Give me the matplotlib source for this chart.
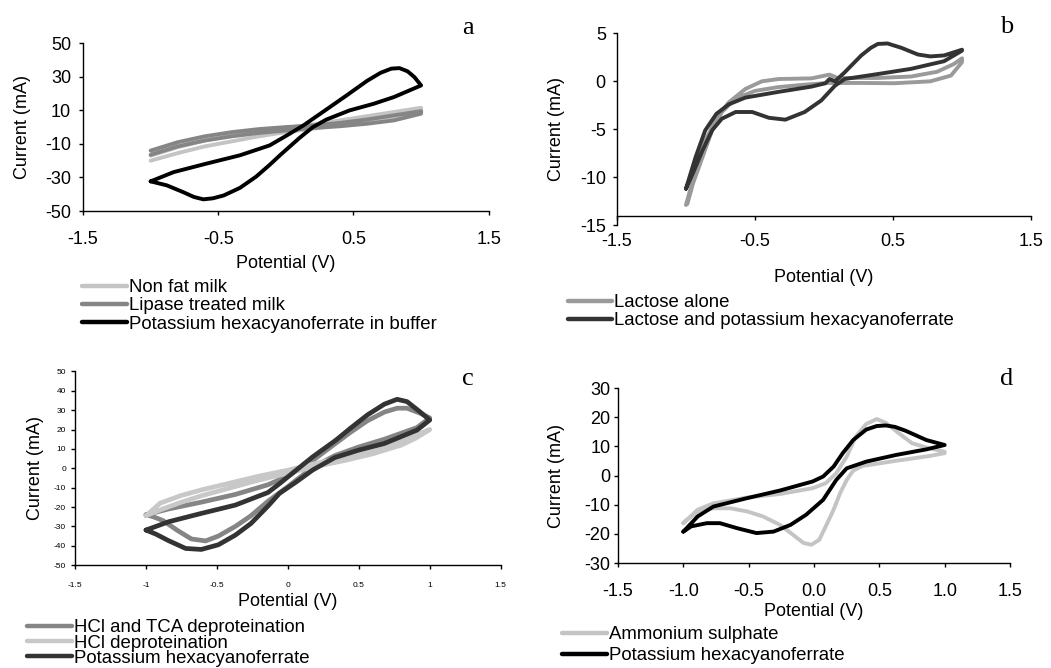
import matplotlib.pyplot as plt
from matplotlib.lines import Line2D

plt.rcParams["font.family"] = ["Liberation Sans", "DejaVu Sans"]
plt.rcParams["axes.unicode_minus"] = False
plt.rcParams["lines.solid_joinstyle"] = "round"
plt.rcParams["lines.solid_capstyle"] = "round"

# ---- panel a : milk samples ----
a_nonfat_v = [-1.0, -0.8, -0.6, -0.4, -0.2, 0.0, 0.2, 0.4, 0.6, 0.8, 1.0,
              1.0, 0.8, 0.6, 0.4, 0.2, 0.0, -0.2, -0.4, -0.6, -0.8, -1.0]
a_nonfat_i = [-17, -12, -8, -5, -2.5, -0.5, 1.5, 4, 6.5, 9, 11.5,
              9, 5.5, 3, 1, -1, -3, -5.5, -8.5, -11.5, -15.5, -20]
a_lipase_v = [-1.0, -0.8, -0.6, -0.4, -0.2, 0.0, 0.2, 0.4, 0.6, 0.8, 1.0,
              1.0, 0.8, 0.6, 0.4, 0.2, 0.0, -0.2, -0.4, -0.6, -0.8, -1.0]
a_lipase_i = [-14, -9, -5.5, -3, -1.2, 0, 1, 2.5, 4.5, 7, 9.5,
              8, 4, 2, 0.5, -0.5, -2, -3.5, -5.5, -8, -11.5, -16.5]
a_ferri_v = [-1.0, -0.83, -0.59, -0.34, -0.12, 0.0, 0.13, 0.30, 0.45, 0.60, 0.70, 0.78, 0.84, 0.90, 0.95, 1.0,
             1.0, 0.80, 0.65, 0.47, 0.30, 0.20, 0.10, -0.04, -0.12, -0.22, -0.34, -0.46, -0.54, -0.61, -0.68, -0.76, -0.88, -1.0]
a_ferri_i = [-32.3, -26.8, -21.8, -16.8, -10.9, -5.3, 1.0, 10.5, 18.9, 27.5, 32.3, 34.8, 35.1, 33.2, 29.8, 24.8,
             24.8, 17.9, 13.9, 9.9, 4.5, 0.0, -6.5, -16.5, -22.5, -29.5, -36.2, -40.7, -42.4, -43.0, -41.6, -38.7, -34.7, -32.3]
a_labels = ["Non fat milk", "Lipase treated milk", "Potassium hexacyanoferrate in buffer"]
a_xticks = [-1.5, -0.5, 0.5, 1.5]
a_xticklabels = ["-1.5", "-0.5", "0.5", "1.5"]
a_yticks = [-50, -30, -10, 10, 30, 50]

# ---- panel b : lactose ----
b_lactose_v = [-1.0, -0.93, -0.86, -0.78, -0.69, -0.57, -0.45, -0.33, -0.09, 0.04, 0.10, 0.39, 0.63, 0.82, 0.94, 1.0,
               1.0, 0.92, 0.77, 0.51, 0.27, 0.03, -0.14, -0.33, -0.50, -0.64, -0.74, -0.81, -0.88, -0.95, -0.99]
b_lactose_i = [-12.9, -9.3, -6.2, -3.9, -2.2, -0.8, 0.0, 0.24, 0.31, 0.7, 0.35, 0.35, 0.5, 1.0, 1.8, 2.4,
               2.0, 0.6, 0.0, -0.2, -0.17, -0.17, -0.35, -0.6, -1.0, -1.8, -3.2, -5.1, -7.9, -10.7, -12.8]
b_mix_v = [-1.0, -0.93, -0.86, -0.78, -0.69, -0.57, -0.33, -0.09, 0.01, 0.04, 0.08, 0.15, 0.27, 0.34, 0.39, 0.46, 0.56, 0.68, 0.77, 0.87, 1.0,
           1.0, 0.87, 0.63, 0.39, 0.15, 0.08, -0.02, -0.14, -0.28, -0.40, -0.52, -0.64, -0.74, -0.81, -0.88, -0.95, -1.0]
b_mix_i = [-11.2, -7.9, -5.1, -3.4, -2.4, -1.7, -1.1, -0.55, -0.2, 0.24, 0.0, 0.94, 2.7, 3.5, 3.9, 3.95, 3.5, 2.8, 2.6, 2.7, 3.3,
           3.2, 2.1, 1.3, 0.76, 0.24, -0.45, -2.0, -3.2, -4.0, -3.8, -3.2, -3.2, -3.9, -5.1, -7.2, -9.6, -11.2]
b_labels = ["Lactose alone", "Lactose and potassium hexacyanoferrate"]
b_xticks = [-1.5, -0.5, 0.5, 1.5]
b_xticklabels = ["-1.5", "-0.5", "0.5", "1.5"]
b_yticks = [-15, -10, -5, 0, 5]

# ---- panel c : deproteination ----
c_tca_v = [-1.0, -0.84, -0.61, -0.37, -0.14, 0.0, 0.175, 0.33, 0.44, 0.56, 0.68, 0.77, 0.84, 0.93, 1.0,
           1.0, 0.91, 0.68, 0.5, 0.33, 0.175, 0.0, -0.14, -0.26, -0.37, -0.49, -0.58, -0.68, -0.78, -0.88, -0.95, -1.0]
c_tca_i = [-24, -21, -17.5, -13.5, -8.5, -4, 4, 12.5, 18.5, 24.5, 29, 31, 31, 28.5, 26,
           26, 21, 15, 11, 6.5, 0.5, -9.5, -17, -24.5, -30, -35, -37.5, -36.5, -32, -27, -25, -24]
c_hcl_v = [-1.0, -0.9, -0.75, -0.6, -0.4, -0.2, 0.0, 0.2, 0.4, 0.6, 0.8, 0.9, 1.0,
           1.0, 0.9, 0.8, 0.6, 0.4, 0.2, 0.0, -0.2, -0.4, -0.6, -0.75, -0.9, -1.0]
c_hcl_i = [-24.5, -18, -14, -11, -7.5, -4, -1, 2.5, 6, 10, 14, 17, 20,
           20, 15.5, 12, 7.5, 4, 1, -2.5, -6, -10, -14, -17.5, -21.5, -24.5]
c_ferri_v = [-1.0, -0.84, -0.61, -0.37, -0.14, -0.06, 0.175, 0.34, 0.44, 0.56, 0.68, 0.77, 0.84, 0.93, 1.0,
             1.0, 0.91, 0.68, 0.50, 0.33, 0.175, 0.06, -0.06, -0.14, -0.26, -0.37, -0.49, -0.61, -0.72, -0.84, -0.93, -1.0]
c_ferri_i = [-31.9, -27.6, -23.3, -19.0, -12.5, -8.0, 5.9, 14.6, 20.6, 27.5, 33.1, 35.6, 34.4, 29.2, 24.9,
             24.9, 19.7, 12.8, 9.4, 5.5, -0.9, -7.0, -13.0, -19.5, -28.5, -34.5, -39.5, -41.9, -41.4, -37.4, -34.0, -31.9]
c_labels = ["HCl and TCA deproteination", "HCl deproteination", "Potassium hexacyanoferrate"]
c_xticks = [-1.5, -1.0, -0.5, 0.0, 0.5, 1.0, 1.5]
c_xticklabels = ["-1.5", "-1", "-0.5", "0", "0.5", "1", "1.5"]
c_yticks = [-50, -40, -30, -20, -10, 0, 10, 20, 30, 40, 50]

# ---- panel d : ammonium sulphate ----
d_amm_v = [-1.0, -0.89, -0.77, -0.51, -0.26, -0.01, 0.09, 0.17, 0.25, 0.32, 0.40, 0.48, 0.55, 0.65, 0.75, 0.88, 1.0,
           1.0, 0.88, 0.63, 0.37, 0.30, 0.25, 0.20, 0.15, 0.09, 0.04, -0.02, -0.08, -0.16, -0.26, -0.39, -0.51, -0.64, -0.77, -0.87, -0.94, -1.0]
d_amm_i = [-16.3, -11.7, -9.5, -7.5, -6.3, -4.3, -2.6, 0.8, 6.5, 13.4, 17.7, 19.4, 18.1, 14.5, 11.1, 9.4, 8.2,
           7.7, 6.7, 5.1, 3.3, 1.7, -1.5, -6.0, -11.7, -17.4, -22.0, -23.7, -23.1, -20.3, -16.9, -14.0, -12.3, -11.2, -11.2, -12.3, -14.0, -16.3]
d_ferri_v = [-1.0, -0.89, -0.77, -0.51, -0.26, -0.01, 0.07, 0.15, 0.22, 0.30, 0.40, 0.48, 0.55, 0.62, 0.70, 0.86, 1.0,
             1.0, 0.86, 0.63, 0.40, 0.25, 0.17, 0.07, -0.06, -0.18, -0.31, -0.44, -0.59, -0.72, -0.82, -0.94, -1.0]
d_ferri_i = [-19.2, -14.0, -10.6, -7.7, -5.1, -2.0, -0.3, 3.1, 7.7, 12.2, 15.8, 17.0, 17.2, 16.7, 15.4, 12.2, 10.5,
             10.5, 9.0, 7.1, 4.8, 2.5, -1.5, -8.3, -13.4, -16.9, -19.2, -19.7, -18.0, -16.3, -16.3, -17.4, -19.2]
d_labels = ["Ammonium sulphate", "Potassium hexacyanoferrate"]
d_xticks = [-1.5, -1.0, -0.5, 0.0, 0.5, 1.0, 1.5]
d_xticklabels = ["-1.5", "-1.0", "-0.5", "0.0", "0.5", "1.0", "1.5"]
d_yticks = [-30, -20, -10, 0, 10, 20, 30]

LW = 2.8
FS = 13
LEG_FS = 13.4


def style_axis(ax, xticks, xticklabels, yticks, ylim, tick_fs, xpad, ypad):
    ax.set_xlim(-1.5, 1.5)
    ax.set_ylim(*ylim)
    ax.set_xticks(xticks)
    ax.set_xticklabels(xticklabels)
    ax.set_yticks(yticks)
    ax.set_yticklabels([str(t) for t in yticks])
    for side in ["top", "right"]:
        ax.spines[side].set_visible(False)
    for side in ["left", "bottom"]:
        ax.spines[side].set_linewidth(1.0)
    ax.tick_params(axis="both", direction="out", length=3, width=1.0, labelsize=tick_fs)
    ax.tick_params(axis="x", pad=xpad)
    ax.tick_params(axis="y", pad=ypad)


def set_labels(ax, xlab_y, ylab_x):
    ax.set_xlabel("Potential (V)", fontsize=FS)
    ax.set_ylabel("Current (mA)", fontsize=FS)
    ax.xaxis.set_label_coords(0.5, xlab_y)
    ax.yaxis.set_label_coords(ylab_x, 0.5)
    ax.xaxis.label.set_verticalalignment("center")
    ax.yaxis.label.set_verticalalignment("center")


def add_legend(ax, colors, labels, x, y, spacing):
    handles = [Line2D([], [], color=c, lw=LW + 0.4) for c in colors]
    ax.legend(handles, labels, loc="upper left", bbox_to_anchor=(x, y),
              bbox_transform=fig.transFigure, frameon=False, fontsize=LEG_FS,
              borderpad=0, borderaxespad=0, handlelength=2.4,
              handletextpad=0.12, labelspacing=spacing)


fig = plt.figure(figsize=(10.51, 6.68), dpi=100)

# panel a
ax_a = fig.add_axes([0.079, 0.684, 0.386, 0.2515])
a_colors = ["#c4c4c4", "#858585", "#000000"]
ax_a.plot(a_nonfat_v, a_nonfat_i, color=a_colors[0], lw=LW)
ax_a.plot(a_lipase_v, a_lipase_i, color=a_colors[1], lw=LW)
ax_a.plot(a_ferri_v, a_ferri_i, color=a_colors[2], lw=LW)
style_axis(ax_a, a_xticks, a_xticklabels, a_yticks, (-50, 50), FS, 11, 5.5)
set_labels(ax_a, -0.31, -0.15)
add_legend(ax_a, a_colors, a_labels, 0.078, 0.582, 0.06)

# panel b
ax_b = fig.add_axes([0.587, 0.663, 0.394, 0.287])
b_colors = ["#9a9a9a", "#333333"]
ax_b.plot(b_lactose_v, b_lactose_i, color=b_colors[0], lw=LW)
ax_b.plot(b_mix_v, b_mix_i, color=b_colors[1], lw=LW)
style_axis(ax_b, b_xticks, b_xticklabels, b_yticks, (-15, 5), FS, 9.5, 5)
ax_b.spines["bottom"].set_position(("data", -14))
set_labels(ax_b, -0.271, -0.145)
add_legend(ax_b, b_colors, b_labels, 0.540, 0.5595, 0.06)

# panel c
ax_c = fig.add_axes([0.0714, 0.154, 0.405, 0.290])
c_colors = ["#858585", "#c8c8c8", "#333333"]
ax_c.plot(c_tca_v, c_tca_i, color=c_colors[0], lw=LW + 0.6)
ax_c.plot(c_hcl_v, c_hcl_i, color=c_colors[1], lw=LW + 0.6)
ax_c.plot(c_ferri_v, c_ferri_i, color=c_colors[2], lw=LW + 0.6)
style_axis(ax_c, c_xticks, c_xticklabels, c_yticks, (-50, 50), 6, 9, 3.5)
set_labels(ax_c, -0.186, -0.094)
add_legend(ax_c, c_colors, c_labels, 0.0257, 0.073, -0.09)

# panel d
ax_d = fig.add_axes([0.588, 0.157, 0.373, 0.262])
d_colors = ["#c4c4c4", "#000000"]
ax_d.plot(d_amm_v, d_amm_i, color=d_colors[0], lw=LW)
ax_d.plot(d_ferri_v, d_ferri_i, color=d_colors[1], lw=LW)
style_axis(ax_d, d_xticks, d_xticklabels, d_yticks, (-30, 30), FS, 11, 2.5)
set_labels(ax_d, -0.274, -0.156)
add_legend(ax_d, d_colors, d_labels, 0.535, 0.0625, 0.21)

# panel letters
for letter, (x, y) in zip("abcd", [(0.445, 0.958), (0.958, 0.960), (0.445, 0.433), (0.958, 0.433)]):
    fig.text(x, y, letter, fontsize=19, family="Liberation Serif", ha="center", va="center")

fig.savefig("out.png", dpi=100)
